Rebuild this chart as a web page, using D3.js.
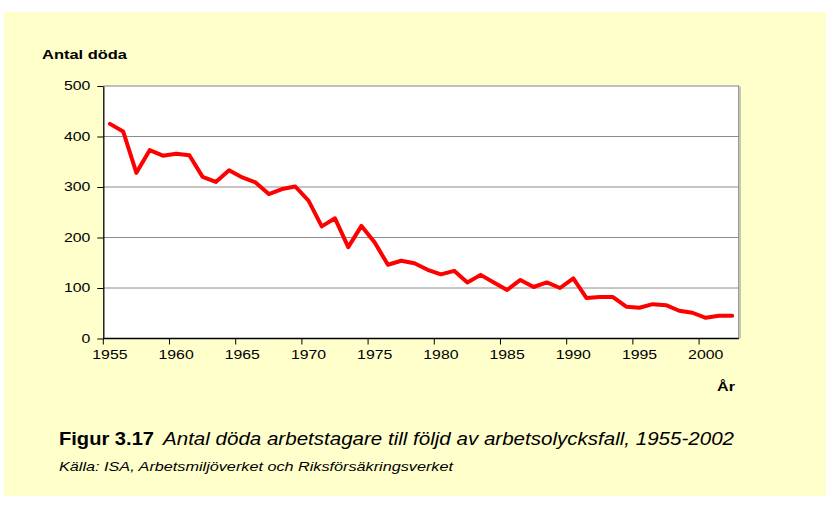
<!DOCTYPE html>
<html>
<head>
<meta charset="utf-8">
<script src="https://cdn.jsdelivr.net/npm/d3@7"></script>
<style>
  html, body { margin: 0; padding: 0; background: #ffffff; }
  svg { display: block; font-family: "Liberation Sans", Arial, sans-serif; }
</style>
</head>
<body>
<svg id="chart" width="826" height="512"></svg>
<script>
const years = [1955,1956,1957,1958,1959,1960,1961,1962,1963,1964,1965,1966,1967,1968,1969,
  1970,1971,1972,1973,1974,1975,1976,1977,1978,1979,1980,1981,1982,1983,1984,1985,1986,1987,
  1988,1989,1990,1991,1992,1993,1994,1995,1996,1997,1998,1999,2000,2001,2002];
const deaths = [425,410,328,373,362,366,363,320,310,333,319,309,286,296,301,
  273,222,238,181,223,190,146,154,149,136,127,134,111,126,111,96,116,102,
  111,100,119,80,82,82,63,61,68,66,55,51,41,45,45];
const yTicks = [0,100,200,300,400,500];
const xLabelYears = [1955,1960,1965,1970,1975,1980,1985,1990,1995,2000];
const yTitle = "Antal döda";
const xTitle = "År";
const figLabel = "Figur 3.17";
const figTitle = "Antal döda arbetstagare till följd av arbetsolycksfall, 1955-2002";
const sourceText = "Källa: ISA, Arbetsmiljöverket och Riksförsäkringsverket";

const svg = d3.select("#chart");
const SX = 1.32; // horizontal stretch of the chart's text

svg.append("rect").attr("x",4).attr("y",12).attr("width",822).attr("height",484).attr("fill","#FFFFCC");

const L = 103.3, R = 738.8, T = 86, B = 338.5;
const x = d3.scaleBand().domain(years).range([L, R]).padding(0);
const y = d3.scaleLinear().domain([0,500]).range([B, T]);

// plot area
svg.append("rect").attr("x",L).attr("y",T).attr("width",R-L).attr("height",B-T).attr("fill","#ffffff");

// gridlines
svg.append("g").selectAll("line").data(yTicks.filter(d => d > 0 && d < 500)).join("line")
  .attr("x1",L).attr("x2",R).attr("y1",d => y(d)).attr("y2",d => y(d))
  .attr("stroke","#8c8c8c").attr("stroke-width",1);

// border top/right
svg.append("path").attr("d",`M${L},${T}H${R}V${B}`).attr("fill","none").attr("stroke","#808080").attr("stroke-width",1.2);
svg.append("path").attr("d",`M${R+1.5},${T+1}V${B}`).attr("fill","none").attr("stroke","#b8b8b0").attr("stroke-width",1);

function stretch(sel, s) {
  sel.each(function() {
    const t = d3.select(this);
    const tx = +t.attr("x") || 0;
    t.attr("x", 0).attr("transform", `translate(${tx},0) scale(${s},1)`);
  });
}

// y axis
const gy = svg.append("g").attr("transform",`translate(${L},0)`)
  .call(d3.axisLeft(y).tickValues(yTicks).tickSize(6).tickPadding(7).tickSizeOuter(0));
gy.select(".domain").attr("stroke","#000").attr("stroke-width",1.3);
gy.selectAll(".tick line").attr("stroke","#000");
gy.selectAll(".tick text").attr("font-size",12).attr("fill","#000")
  .attr("font-family","Liberation Sans, Arial, sans-serif");
stretch(gy.selectAll(".tick text"), SX);

// x axis labels
const gx = svg.append("g").attr("transform",`translate(0,${B})`)
  .call(d3.axisBottom(x).tickValues(xLabelYears).tickSize(0).tickPadding(12.3).tickSizeOuter(0));
gx.select(".domain").remove();
gx.selectAll(".tick text").attr("font-size",12).attr("fill","#000")
  .attr("font-family","Liberation Sans, Arial, sans-serif");
stretch(gx.selectAll(".tick text"), SX);
svg.append("line").attr("x1",L).attr("x2",R).attr("y1",B).attr("y2",B).attr("stroke","#000").attr("stroke-width",1.3);
svg.append("g").selectAll("line").data(xLabelYears).join("line")
  .attr("x1",d => x(d)).attr("x2",d => x(d)).attr("y1",B).attr("y2",B+6)
  .attr("stroke","#000").attr("stroke-width",1);

// line
const line = d3.line().x((d,i) => x(years[i]) + x.bandwidth()/2).y(d => y(d));
svg.append("path").datum(deaths).attr("d",line).attr("fill","none")
  .attr("stroke","#FF0000").attr("stroke-width",4).attr("stroke-linejoin","round").attr("stroke-linecap","round");

// titles
svg.append("text").attr("x",42).attr("y",59).attr("font-size",12).attr("font-weight","bold")
  .attr("textLength",85).attr("lengthAdjust","spacingAndGlyphs").text(yTitle);
svg.append("text").attr("x",717).attr("y",391).attr("font-size",12).attr("font-weight","bold")
  .attr("textLength",18).attr("lengthAdjust","spacingAndGlyphs").text(xTitle);

svg.append("text").attr("x",59).attr("y",445).attr("font-size",19).attr("font-weight","bold")
  .attr("textLength",95).attr("lengthAdjust","spacingAndGlyphs").text(figLabel);
svg.append("text").attr("x",163).attr("y",445).attr("font-size",19).attr("font-style","italic")
  .attr("textLength",571).attr("lengthAdjust","spacingAndGlyphs").text(figTitle);
svg.append("text").attr("x",59).attr("y",471).attr("font-size",13).attr("font-style","italic")
  .attr("textLength",394).attr("lengthAdjust","spacingAndGlyphs").text(sourceText);
</script>
</body>
</html>
